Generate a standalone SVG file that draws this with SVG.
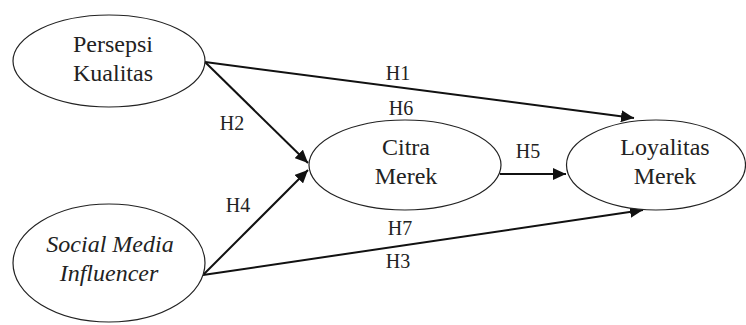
<svg xmlns="http://www.w3.org/2000/svg" width="746" height="325" viewBox="0 0 746 325">
<defs>
<marker id="arr" markerUnits="userSpaceOnUse" markerWidth="14" markerHeight="12" refX="13" refY="6" orient="auto">
<path d="M0,0 L13,6 L0,12 Z" fill="#111"/>
</marker>
</defs>
<rect width="746" height="325" fill="#fff"/>
<g id="connectors">
<g stroke="#111" stroke-width="2" fill="none" marker-end="url(#arr)">
<line x1="205" y1="62" x2="634" y2="118"/>
<line x1="205" y1="62" x2="308" y2="163"/>
<line x1="203" y1="275" x2="308" y2="170"/>
<line x1="203" y1="275" x2="643" y2="210"/>
<line x1="500" y1="174" x2="566" y2="174"/>
</g>
<g font-family="Liberation Serif" font-size="20" fill="#222" text-anchor="middle">
<text x="398" y="80">H1</text>
<text x="401" y="115">H6</text>
<text x="232" y="130">H2</text>
<text x="238" y="212">H4</text>
<text x="528" y="158">H5</text>
<text x="400" y="235">H7</text>
<text x="398" y="268">H3</text>
</g>
</g>
<g id="persepsi-kualitas" font-family="Liberation Serif" font-size="24" fill="#222" text-anchor="middle">
<ellipse cx="109" cy="61" rx="96" ry="46" fill="#fff" stroke="#222" stroke-width="1.2"/>
<text x="113" y="52">Persepsi</text>
<text x="113" y="81">Kualitas</text>
</g>
<g id="social-media-influencer" font-family="Liberation Serif" font-size="24" fill="#222" text-anchor="middle">
<ellipse cx="109" cy="263" rx="96" ry="59" fill="#fff" stroke="#222" stroke-width="1.2"/>
<text x="110" y="252" font-style="italic">Social Media</text>
<text x="109" y="281" font-style="italic">Influencer</text>
</g>
<g id="citra-merek" font-family="Liberation Serif" font-size="24" fill="#222" text-anchor="middle">
<ellipse cx="405" cy="165" rx="96" ry="45" fill="#fff" stroke="#222" stroke-width="1.2"/>
<text x="406" y="155">Citra</text>
<text x="406" y="184">Merek</text>
</g>
<g id="loyalitas-merek" font-family="Liberation Serif" font-size="24" fill="#222" text-anchor="middle">
<ellipse cx="656" cy="165" rx="89.5" ry="45" fill="#fff" stroke="#222" stroke-width="1.2"/>
<text x="665" y="155">Loyalitas</text>
<text x="665" y="184">Merek</text>
</g>
</svg>
